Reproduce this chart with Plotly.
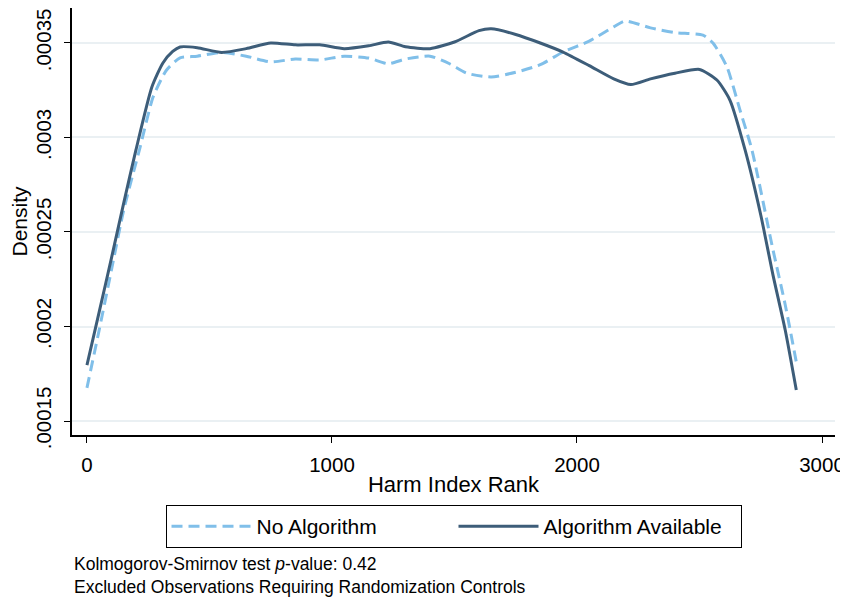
import plotly.graph_objects as go

# Harm index rank grid (x) and kernel density estimates
rank_solid = [0, 50, 100, 150, 200, 265, 310, 350, 380, 450, 550, 650, 750, 850, 950,
              1050, 1150, 1230, 1300, 1400, 1500, 1600, 1650, 1750, 1850, 1943, 2050,
              2150, 2220, 2300, 2400, 2500, 2571, 2624, 2686, 2750, 2800, 2850, 2895]
algo_available = [0.0001796, 0.0002077, 0.0002362, 0.0002653, 0.0002934, 0.0003267,
                  0.0003394, 0.0003455, 0.0003479, 0.0003475, 0.0003450, 0.0003470,
                  0.0003500, 0.0003490, 0.0003490, 0.0003470, 0.0003485, 0.0003505,
                  0.0003480, 0.0003470, 0.0003505, 0.0003565, 0.0003575, 0.0003545,
                  0.0003500, 0.0003452, 0.0003380, 0.0003310, 0.0003280, 0.0003310,
                  0.0003340, 0.0003360, 0.0003304, 0.0003198, 0.0002934, 0.0002590,
                  0.0002272, 0.0001980, 0.0001664]

rank_dash = [0, 50, 100, 150, 216, 270, 325, 380, 450, 550, 650, 750, 850, 950, 1050,
             1150, 1230, 1300, 1400, 1480, 1550, 1650, 1750, 1850, 1943, 2050, 2150,
             2196, 2300, 2400, 2514, 2555, 2612, 2665, 2714, 2800, 2850, 2895]
no_algorithm = [0.0001675, 0.0001982, 0.0002299, 0.0002616, 0.0002944, 0.0003214,
                0.0003357, 0.0003421, 0.0003430, 0.0003450, 0.0003430, 0.0003400,
                0.0003415, 0.0003410, 0.0003430, 0.0003420, 0.0003390, 0.0003415,
                0.0003430, 0.0003390, 0.0003340, 0.0003320, 0.0003345, 0.0003385,
                0.0003452, 0.0003510, 0.0003585, 0.0003616, 0.0003580, 0.0003555,
                0.0003542, 0.0003500, 0.0003373, 0.0003146, 0.0002934, 0.0002405,
                0.0002114, 0.0001812]

x_ticks = [0, 1000, 2000, 3000]
y_ticks = [0.00015, 0.0002, 0.00025, 0.0003, 0.00035]
y_tick_labels = [".00015", ".0002", ".00025", ".0003", ".00035"]

FONT = "Liberation Sans, Arial, Helvetica, sans-serif"

fig = go.Figure()
fig.add_trace(go.Scatter(
    x=rank_dash, y=no_algorithm, mode="lines", name="No Algorithm",
    line=dict(color="#80bfe9", width=3, dash="11px,6px", shape="spline", smoothing=0.6),
))
fig.add_trace(go.Scatter(
    x=rank_solid, y=algo_available, mode="lines", name="Algorithm Available",
    line=dict(color="#3d5d79", width=3, shape="spline", smoothing=0.6),
))

# the page body adds an 8px offset, so the figure is sized 840x589
fig.update_layout(
    width=840, height=589,
    margin=dict(l=64, r=13, t=0, b=162, autoexpand=False),
    paper_bgcolor="white", plot_bgcolor="white",
    font=dict(family=FONT, color="black", size=20),
    showlegend=True,
    legend=dict(
        orientation="h", x=0.5, xanchor="center", y=-0.164, yanchor="top",
        bordercolor="black", borderwidth=1, bgcolor="white",
        font=dict(size=21, family=FONT), itemwidth=80, entrywidth=192,
        traceorder="normal",
    ),
    xaxis=dict(
        range=[-61, 3053], tickvals=x_ticks, ticks="outside", ticklen=6,
        tickcolor="black", showline=True, linecolor="black", linewidth=1.5,
        showgrid=False, zeroline=False, tickfont=dict(size=20.5), automargin=False,
        ticklabelstandoff=5,
        title=dict(text="Harm Index Rank", font=dict(size=22), standoff=1),
    ),
    yaxis=dict(
        range=[0.0001426, 0.0003685], tickvals=y_ticks, ticktext=y_tick_labels,
        ticks="outside", ticklen=6, tickcolor="black", tickangle=-90,
        showline=True, linecolor="black", linewidth=1.5,
        showgrid=True, gridcolor="#eaf0f3", gridwidth=2, zeroline=False,
        tickfont=dict(size=20.5), automargin=False, ticklabelstandoff=5,
        title=dict(text="Density", font=dict(size=21), standoff=0),
    ),
)

fig.add_annotation(
    text=("Kolmogorov-Smirnov test <i>p</i>-value: 0.42<br>"
          "Excluded Observations Requiring Randomization Controls"),
    xref="paper", yref="paper", x=0.0, y=-0.3294, xanchor="left", yanchor="middle",
    align="left", showarrow=False, font=dict(size=17.5, family=FONT),
)

fig.write_html("out.html")
